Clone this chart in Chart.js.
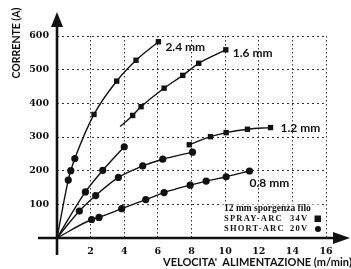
<!DOCTYPE html>
<html>
<head>
<meta charset="utf-8">
<script src="https://cdn.jsdelivr.net/npm/chart.js@4"></script>
<style>
html,body{margin:0;padding:0;background:#fff;}
#wrap{width:351px;height:269px;position:relative;}
</style>
</head>
<body>
<div id="wrap"><canvas id="c"></canvas></div>
<script>
/* ===== dati ===== */
const xTicks = [2,4,6,8,10,12,14,16];
const yTicks = [100,200,300,400,500,600];
const wireLabels = ["2.4 mm","1.6 mm","1.2 mm","0.8 mm"];

// 2.4 mm
const short24X = [0.67,0.82,1.06];
const short24Y = [172,200,236];
const spray24X = [2.2,3.55,4.7,6.03];
const spray24Y = [367,466,528,583];
// 1.6 mm
const short16X = [1.69,2.72,4.0];
const short16Y = [137,201,271];
const spray16X = [3.75,4.5,5.0,6.37,7.48,8.43,10.04];   // il primo punto e' solo l'inizio della curva
const spray16Y = [331,364,390,445,483,519,559];
// 1.2 mm
const short12X = [1.33,2.3,3.65,5.1,6.29,8.06];
const short12Y = [80,126,180,214,234,255];
const spray12X = [7.87,9.13,10.06,11.33,12.7];
const spray12Y = [277,301,313,323,328];
// 0.8 mm
const short08X = [2.06,2.5,3.85,5.28,6.37,7.92,8.87,10.06,11.45];
const short08Y = [55,61,87,114,135,157,169,182,199];

const legendNote = "12 mm sporgenza filo";
const legendRows = [["SPRAY-ARC","34V"],["SHORT-ARC","20V"]];
const yTitle = "CORRENTE (A)";
const xTitle = "VELOCITA'  ALIMENTAZIONE (m/min)";

/* ===== helper ===== */
const pts = (xs,ys) => xs.map((x,i)=>({x,y:ys[i]}));
const origin = [{x:0,y:0}];
const INK = "#111";

const lineDs = data => ({data,showLine:true,pointRadius:0,borderColor:INK,borderWidth:1.4,
    cubicInterpolationMode:"monotone",fill:false});
const markDs = (data,style) => ({data,showLine:false,pointStyle:style,
    pointRadius:style==="rect"?3.8:3.6,backgroundColor:INK,borderColor:INK,borderWidth:0});

const datasets = [
    lineDs(origin.concat(pts(short24X,short24Y),pts(spray24X,spray24Y))),
    lineDs(origin.concat(pts(short16X,short16Y))),
    lineDs(pts(spray16X,spray16Y)),
    lineDs(origin.concat(pts(short12X,short12Y))),
    lineDs(pts(spray12X,spray12Y)),
    lineDs(origin.concat(pts(short08X,short08Y))),
    markDs(pts(spray24X,spray24Y).concat(pts(spray16X.slice(1),spray16Y.slice(1)),pts(spray12X,spray12Y)),"rect"),
    markDs(pts(short24X,short24Y).concat(pts(short16X,short16Y),pts(short12X,short12Y),pts(short08X,short08Y)),"circle")
];

// ultimo punto di ogni curva + spostamento dell'etichetta
const labelAnchors = [
    {p:{x:spray24X.at(-1),y:spray24Y.at(-1)},dx:7,dy:5},
    {p:{x:spray16X.at(-1),y:spray16Y.at(-1)},dx:7,dy:3},
    {p:{x:spray12X.at(-1),y:spray12Y.at(-1)},dx:10,dy:1},
    {p:{x:short08X.at(-1),y:short08Y.at(-1)},dx:0,dy:12}
];

/* ===== plugin: assi con frecce, riquadro legenda, testi ===== */
const decor = {
    id:"decor",
    beforeDatasetsDraw(chart){
        const {ctx,chartArea:a} = chart;
        ctx.save();
        // riquadro bianco della legenda
        ctx.fillStyle="#fff";
        ctx.fillRect(222,204.5,100,33);
        // assi
        ctx.strokeStyle=INK;ctx.fillStyle=INK;ctx.lineWidth=2.6;
        ctx.beginPath();ctx.moveTo(a.left,255);ctx.lineTo(a.left,24);ctx.stroke();
        ctx.beginPath();ctx.moveTo(38,a.bottom);ctx.lineTo(336,a.bottom);ctx.stroke();
        ctx.beginPath();ctx.moveTo(a.left,12);ctx.lineTo(a.left-6,27);ctx.lineTo(a.left+6,27);ctx.closePath();ctx.fill();
        ctx.beginPath();ctx.moveTo(350,a.bottom);ctx.lineTo(333,a.bottom-6);ctx.lineTo(333,a.bottom+6);ctx.closePath();ctx.fill();
        ctx.restore();
    },
    afterDraw(chart){
        const {ctx,scales:{x,y}} = chart;
        ctx.save();
        ctx.fillStyle=INK;ctx.textBaseline="middle";ctx.textAlign="left";
        // etichette dei diametri
        ctx.font="bold 12px Lato";
        labelAnchors.forEach((l,i)=>{
            ctx.fillText(wireLabels[i],x.getPixelForValue(l.p.x)+l.dx,y.getPixelForValue(l.p.y)+l.dy);
        });
        // legenda
        ctx.font="bold 9.5px 'Liberation Serif'";
        ctx.fillText(legendNote,224,208.5);
        ctx.font="bold 8.5px 'Liberation Serif'";
        ctx.letterSpacing="1.2px";
        legendRows.forEach((r,i)=>{
            const yy=219+i*10;
            ctx.fillText(r[0],224,yy);
            ctx.fillText(r[1],290,yy);
        });
        ctx.letterSpacing="0px";
        ctx.fillRect(314.5,215.5,6.5,6.5);
        ctx.beginPath();ctx.arc(318,229,3,0,Math.PI*2);ctx.fill();
        // titoli degli assi
        ctx.font="bold 11px Lato";
        ctx.fillText(xTitle,163,262);
        ctx.font="bold 10.5px Lato";
        ctx.translate(17,43);ctx.rotate(-Math.PI/2);ctx.textAlign="center";
        ctx.fillText(yTitle,0,0);
        ctx.restore();
    }
};

const tickFont = {family:"'DejaVu Serif'",size:9.5,weight:"bold"};

new Chart(document.getElementById("c"),{
    type:"scatter",
    data:{datasets},
    options:{
        responsive:true,maintainAspectRatio:false,animation:false,devicePixelRatio:1,
        layout:{padding:{top:36,right:25,left:0,bottom:0}},
        plugins:{legend:{display:false},tooltip:{enabled:false}},
        scales:{
            x:{type:"linear",min:0,max:16,
                afterBuildTicks:s=>{s.ticks=[0].concat(xTicks).map(v=>({value:v}));},
                afterFit:s=>{s.height=31;},
                ticks:{color:INK,font:tickFont,padding:8,maxRotation:0,callback:v=>v===0?"":v},
                grid:{color:"#333",lineWidth:1,drawTicks:false},
                border:{display:false,dash:[1.5,2.5]}},
            y:{type:"linear",min:0,max:600,
                afterBuildTicks:s=>{s.ticks=[0].concat(yTicks).map(v=>({value:v}));},
                afterFit:s=>{s.width=57;},
                ticks:{color:INK,font:tickFont,padding:8,callback:v=>v===0?"":v},
                grid:{color:"#333",lineWidth:1,drawTicks:false},
                border:{display:false,dash:[2,3]}}
        }
    },
    plugins:[decor]
});
</script>
</body>
</html>
